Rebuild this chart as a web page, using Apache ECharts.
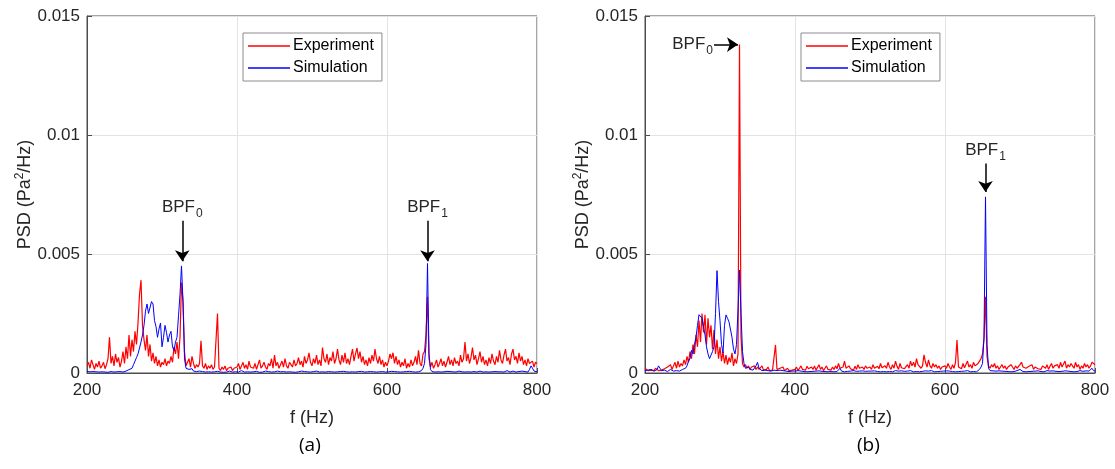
<!DOCTYPE html>
<html>
<head>
<meta charset="utf-8">
<script src="https://cdn.jsdelivr.net/npm/echarts@6/dist/echarts.min.js"></script>
<style>
  html, body { margin: 0; padding: 0; background: #fff; }
  #main { width: 1115px; height: 469px; }
</style>
</head>
<body>
<div id="main"></div>
<script>
// PSD values in units of 1e-5 Pa^2/Hz, one value per 2 Hz bin from 200 to 800 Hz
var fStart = 200;
var fStep = 2;
var xTicks = [200, 400, 600, 800];

/* (a) experiment */
var expA = [
  30, 45, 20, 55, 35, 15, 40, 25, 50, 20, 30, 45, 18, 35, 60, 150, 40, 70, 30, 80, 45, 65, 25, 50, 90,
  40, 110, 60, 160, 70, 140, 90, 175, 120, 210, 330, 390, 200, 140, 95, 160, 70, 120, 50, 85, 40, 70, 30, 55, 25,
  45, 35, 60, 30, 50, 40, 70, 45, 110, 80, 130, 60, 150, 380, 300, 90, 30, 45, 60, 25, 70, 40, 20, 35, 25,
  40, 135, 30, 20, 40, 15, 30, 20, 35, 15, 25, 20, 250, 20, 10, 25, 15, 30, 10, 20, 15, 25, 10, 20, 15,
  25, 40, 15, 30, 45, 20, 35, 15, 50, 25, 30, 20, 40, 15, 35, 55, 20, 30, 45, 25, 15, 40, 30, 60, 20,
  75, 30, 45, 20, 35, 50, 25, 60, 30, 20, 45, 35, 25, 55, 30, 40, 65, 35, 50, 25, 70, 40, 55, 85, 45,
  30, 60, 40, 75, 35, 55, 30, 107, 60, 45, 80, 35, 65, 50, 90, 40, 60, 100, 55, 35, 75, 45, 85, 40, 60,
  35, 70, 100, 50, 80, 105, 60, 90, 45, 70, 35, 55, 30, 65, 40, 75, 50, 100, 60, 40, 70, 35, 55, 25, 45,
  30, 50, 80, 60, 85, 40, 70, 35, 55, 25, 45, 30, 60, 20, 40, 25, 55, 30, 45, 70, 35, 95, 40, 30, 80,
  90, 160, 320, 60, 25, 45, 20, 35, 55, 25, 40, 60, 30, 50, 25, 45, 70, 35, 55, 30, 65, 40, 50, 30, 75,
  45, 60, 130, 50, 80, 40, 65, 107, 55, 75, 35, 60, 90, 45, 70, 35, 55, 30, 65, 40, 80, 50, 35, 70, 45,
  95, 55, 40, 75, 100, 50, 65, 35, 80, 100, 55, 70, 40, 85, 50, 70, 35, 55, 30, 60, 40, 35, 50, 25, 45,
  40
];

/* (a) simulation */
var simA = [
  6, 4, 5, 3, 6, 4, 5, 7, 4, 3, 5, 6, 4, 5, 3, 4, 6, 5, 4, 3, 5, 4, 6, 5, 4,
  6, 8, 10, 14, 12, 20, 35, 50, 65, 80, 105, 130, 160, 200, 260, 290, 250, 255, 300, 290, 220, 195, 150, 185, 210,
  110, 150, 200, 170, 130, 160, 175, 110, 95, 130, 150, 240, 330, 450, 300, 60, 20, 12, 15, 10, 18, 8, 12, 6, 10,
  8, 5, 6, 10, 4, 6, 5, 8, 4, 6, 5, 4, 7, 5, 4, 6, 3, 5, 4, 6, 8, 5, 4, 6, 5,
  5, 4, 6, 10, 5, 4, 6, 5, 8, 4, 6, 5, 4, 7, 5, 3, 6, 4, 5, 8, 4, 6, 5, 4, 6,
  5, 4, 8, 6, 5, 4, 6, 5, 4, 7, 5, 6, 4, 5, 3, 6, 5, 4, 8, 5, 6, 4, 5, 7, 4,
  5, 6, 4, 8, 5, 4, 6, 5, 7, 4, 5, 6, 4, 5, 8, 4, 6, 5, 4, 6, 5, 7, 4, 5, 6,
  4, 6, 5, 8, 4, 5, 6, 4, 7, 5, 4, 6, 5, 10, 6, 4, 5, 6, 4, 8, 5, 4, 6, 5, 4,
  6, 5, 4, 7, 5, 6, 4, 5, 8, 4, 6, 5, 4, 6, 5, 7, 4, 5, 6, 4, 8, 5, 6, 10, 20,
  40, 120, 460, 80, 15, 6, 5, 4, 6, 5, 8, 4, 6, 5, 4, 7, 5, 6, 4, 5, 6, 4, 5, 8, 6,
  5, 6, 4, 8, 5, 6, 4, 10, 6, 5, 4, 6, 8, 5, 4, 6, 5, 7, 4, 6, 5, 8, 6, 4, 5,
  6, 5, 8, 4, 6, 10, 5, 4, 6, 8, 5, 4, 7, 6, 5, 8, 10, 6, 5, 4, 15, 30, 20, 8, 6,
  5
];

/* (b) experiment */
var expB = [
  20, 15, 10, 18, 12, 15, 10, 20, 14, 10, 16, 12, 10, 18, 14, 25, 20, 35, 15, 30, 45, 20, 50, 25, 40,
  30, 55, 35, 70, 45, 90, 60, 120, 80, 160, 110, 220, 130, 250, 170, 245, 120, 230, 150, 200, 100, 180, 80, 140, 60,
  110, 50, 90, 40, 75, 35, 65, 45, 85, 30, 60, 40, 80, 1380, 150, 40, 25, 35, 20, 30, 15, 25, 20, 30, 15,
  25, 15, 20, 30, 12, 20, 15, 25, 10, 18, 12, 20, 118, 15, 10, 20, 12, 25, 10, 15, 20, 10, 18, 12, 20,
  15, 25, 10, 20, 30, 15, 22, 12, 28, 18, 10, 25, 15, 30, 12, 20, 35, 15, 25, 10, 20, 30, 15, 22, 12,
  25, 15, 30, 18, 40, 20, 12, 25, 50, 20, 15, 30, 18, 22, 12, 28, 15, 35, 20, 12, 25, 15, 30, 20, 18,
  25, 15, 35, 20, 12, 28, 18, 40, 22, 15, 30, 20, 45, 25, 15, 35, 20, 50, 28, 15, 40, 22, 30, 18, 25,
  35, 20, 50, 30, 45, 25, 60, 35, 40, 20, 30, 76, 45, 25, 55, 30, 20, 40, 25, 35, 20, 30, 15, 25, 20,
  30, 20, 40, 25, 15, 35, 20, 45, 139, 25, 30, 18, 40, 22, 30, 50, 25, 35, 20, 45, 30, 25, 40, 50, 60,
  80, 145, 320, 70, 30, 20, 35, 25, 40, 20, 30, 15, 25, 35, 20, 30, 15, 25, 20, 35, 25, 15, 30, 20, 25,
  35, 45, 25, 30, 20, 15, 28, 20, 35, 15, 25, 30, 18, 22, 15, 30, 25, 20, 35, 15, 28, 40, 20, 30, 25,
  35, 20, 45, 25, 30, 50, 20, 35, 25, 40, 30, 20, 45, 25, 35, 15, 30, 20, 40, 25, 35, 20, 30, 45, 50,
  35
];

/* (b) simulation */
var simB = [
  10, 8, 12, 6, 15, 10, 8, 12, 14, 30, 20, 10, 8, 12, 10, 6, 12, 15, 10, 8, 12, 10, 14, 8, 12,
  15, 10, 20, 30, 50, 60, 95, 80, 120, 150, 200, 245, 250, 230, 195, 160, 110, 80, 60, 55, 90, 110, 250, 430, 300,
  220, 120, 84, 200, 244, 230, 215, 210, 150, 100, 80, 120, 265, 432, 250, 90, 40, 20, 15, 25, 15, 20, 12, 18, 30,
  45, 20, 15, 10, 18, 12, 8, 10, 15, 8, 10, 12, 8, 10, 6, 12, 8, 10, 6, 8, 12, 6, 10, 8, 6,
  8, 6, 10, 5, 8, 12, 6, 9, 5, 8, 6, 10, 7, 5, 8, 6, 9, 5, 7, 10, 6, 8, 5, 7, 6,
  8, 5, 9, 6, 10, 20, 8, 6, 5, 9, 7, 6, 8, 5, 10, 6, 7, 5, 8, 6, 9, 5, 7, 6, 8,
  6, 8, 5, 9, 7, 6, 10, 5, 8, 6, 7, 5, 9, 6, 8, 5, 7, 10, 6, 8, 5, 9, 6, 7, 5,
  8, 6, 10, 7, 5, 9, 6, 8, 5, 12, 7, 6, 9, 5, 8, 6, 10, 7, 5, 8, 6, 9, 7, 5, 8,
  6, 9, 5, 8, 7, 6, 10, 5, 8, 6, 9, 7, 5, 8, 6, 10, 7, 5, 9, 6, 8, 5, 10, 15, 25,
  40, 150, 740, 120, 20, 10, 7, 9, 6, 8, 5, 9, 6, 8, 5, 7, 10, 6, 8, 5, 9, 6, 7, 10, 6,
  15, 8, 6, 9, 5, 8, 6, 10, 7, 5, 8, 6, 9, 12, 6, 8, 5, 7, 10, 6, 8, 5, 9, 6, 7,
  8, 6, 10, 7, 5, 9, 6, 8, 12, 6, 7, 5, 9, 6, 8, 10, 6, 7, 5, 9, 6, 8, 12, 20, 10,
  8
];

// annotation arrows: [label, start point, end point] in data units
var arrowsA = [
  ['BPF{s|0}', [327, 0.0064], [327, 0.0047]],
  ['BPF{s|1}', [654, 0.0064], [654, 0.0047]]
];
var arrowsB = [
  ['BPF{s|0}', [292, 0.0138], [324, 0.0138]],
  ['BPF{s|1}', [654, 0.0088], [654, 0.0076]]
];

function toPairs(arr) {
  return arr.map(function (v, i) { return [fStart + i * fStep, v * 1e-5]; });
}

var FONT = 'Liberation Sans';
var axisColor = '#4d4d4d';
var textColor = '#262626';

function makeX(idx) {
  return {
    gridIndex: idx, type: 'value', min: 200, max: 800, interval: 200,
    name: 'f (Hz)', nameLocation: 'middle', nameGap: 36,
    nameTextStyle: { fontFamily: FONT, fontSize: 18, color: textColor },
    axisLine: { lineStyle: { color: axisColor } },
    axisTick: { inside: true, length: 5, lineStyle: { color: axisColor } },
    axisLabel: { fontFamily: FONT, fontSize: 17, color: textColor, margin: 9,
      customValues: xTicks },
    splitLine: { lineStyle: { color: '#e3e3e3' } }
  };
}
function makeY(idx) {
  return {
    gridIndex: idx, type: 'value', min: 0, max: 0.015, interval: 0.005,
    name: 'PSD (Pa{sup|2}/Hz)', nameLocation: 'middle', nameGap: 50,
    nameTextStyle: { fontFamily: FONT, fontSize: 18, color: textColor,
      rich: { sup: { fontFamily: FONT, fontSize: 12, verticalAlign: 'top', padding: [0, 0, 9, 0], color: textColor } } },
    axisLine: { show: true, lineStyle: { color: axisColor } },
    axisTick: { show: true, inside: true, length: 5, lineStyle: { color: axisColor } },
    axisLabel: { fontFamily: FONT, fontSize: 17, color: textColor, margin: 7 },
    splitLine: { lineStyle: { color: '#e3e3e3' } }
  };
}

function arrowMarks(list) {
  return {
    silent: true,
    animation: false,
    symbol: ['none', 'arrow'],
    symbolSize: 11,
    lineStyle: { color: '#000', width: 1.5, type: 'solid' },
    label: {
      show: true, position: 'start', distance: 1, color: textColor, fontFamily: FONT, fontSize: 17,
      rich: { s: { fontFamily: FONT, fontSize: 12, color: textColor, verticalAlign: 'bottom', padding: [12, 0, 0, 1] } }
    },
    data: list.map(function (a) {
      return [{ coord: a[1], label: { formatter: a[0] } }, { coord: a[2] }];
    })
  };
}

function makeSeries(name, color, idx, arr, marks, width) {
  var s = {
    name: name, type: 'line', xAxisIndex: idx, yAxisIndex: idx,
    data: toPairs(arr), symbol: 'none', animation: false,
    lineStyle: { color: color, width: width }, itemStyle: { color: color }
  };
  if (marks) s.markLine = arrowMarks(marks);
  return s;
}

function makeLegend(left) {
  return {
    left: left, top: 33, orient: 'vertical',
    data: [{ name: 'Experiment', icon: 'rect' }, { name: 'Simulation', icon: 'rect' }],
    itemWidth: 42, itemHeight: 1.5, itemGap: 6,
    padding: [5, 8, 5, 5],
    borderColor: '#8c8c8c', borderWidth: 1, backgroundColor: '#fff',
    textStyle: { fontFamily: FONT, fontSize: 16, color: '#000', padding: [0, 0, 0, -2] }
  };
}

var chartDom = document.getElementById('main');
var myChart = echarts.init(chartDom, null, { renderer: 'canvas' });

var option = {
  backgroundColor: '#fff',
  animation: false,
  grid: [
    { left: 87, top: 16, width: 450, height: 357, show: true, borderColor: axisColor, borderWidth: 1, backgroundColor: 'transparent' },
    { left: 645, top: 16, width: 450, height: 357, show: true, borderColor: axisColor, borderWidth: 1, backgroundColor: 'transparent' }
  ],
  xAxis: [makeX(0), makeX(1)],
  yAxis: [makeY(0), makeY(1)],
  legend: [makeLegend(243), makeLegend(801)],
  graphic: [
    { type: 'text', left: 299, top: 436, style: { text: '(a)', fontFamily: 'Open Sans', fontSize: 19, fill: '#000' } },
    { type: 'text', left: 857, top: 436, style: { text: '(b)', fontFamily: 'Open Sans', fontSize: 19, fill: '#000' } }
  ],
  series: [
    makeSeries('Experiment', '#ff0000', 0, expA, null, 1.2),
    makeSeries('Simulation', '#0000ff', 0, simA, arrowsA, 1),
    makeSeries('Experiment', '#ff0000', 1, expB, null, 1.2),
    makeSeries('Simulation', '#0000ff', 1, simB, arrowsB, 1)
  ]
};

myChart.setOption(option);

window.onresize = function () {
  myChart.resize();
};
</script>
</body>
</html>
